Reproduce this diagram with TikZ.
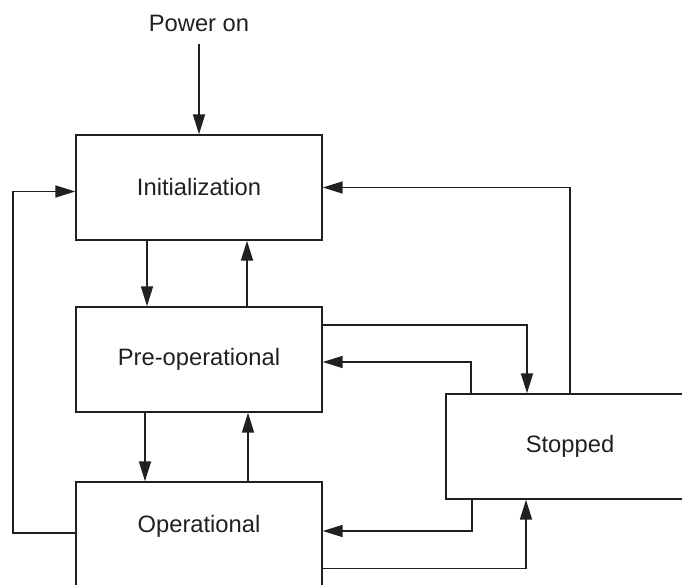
\documentclass[tikz,border=0pt]{standalone}
\usepackage{fontspec}
\setmainfont{Liberation Sans}
\usetikzlibrary{arrows.meta,calc}
\definecolor{ink}{RGB}{35,31,32}
\tikzset{
  state/.style={draw=ink, line width=1.1pt, minimum width=184.5pt, minimum height=78.75pt, inner sep=0pt, text=ink},
  label text/.style={text=ink},
  flow/.style={draw=ink, line width=1.3pt, -{Triangle[length=15pt,width=9pt]}},
}
\begin{document}
\begin{tikzpicture}[x=0.75pt,y=0.75pt,yscale=-1,xscale=1, font=\fontsize{17.8}{21}\selectfont]
\useasboundingbox (0,0) rectangle (682,585);
\clip (0,0) rectangle (682,585);

% Text Node
\node[label text] (power) at (199,23) {Power on};
%Shape: Rectangle
\node[state] (init) at (199,187.5) {Initialization};
%Shape: Rectangle
\node[state] (preop) at (199,359.5) {Pre-operational};
%Shape: Rectangle
\node[state] (oper) at (199,534.5) {};
% Text Node
\node[label text] (opertext) at (199,526.5) {Operational};
%Shape: Rectangle
\node[state, minimum width=186pt] (stopped) at (570,446.5) {Stopped};

%Straight Lines
\draw[flow] ($(power.south)+(0,8)$) -- (init.north);
\draw[flow] ($(init.south)+(-52,0)$) -- ($(preop.north)+(-52,0)$);
\draw[flow] ($(preop.north)+(48,0)$) -- ($(init.south)+(48,0)$);
\draw[flow] ($(preop.south)+(-54,0)$) -- ($(oper.north)+(-54,0)$);
\draw[flow] ($(oper.north)+(49,0)$) -- ($(preop.south)+(49,0)$);
%Elbow Lines
\draw[flow] ($(oper.west)+(0,-1.5)$) -- ++(-62,0) |- ($(init.west)+(0,4)$);
\draw[flow] (stopped.north) |- (init.east);
\draw[flow] ($(preop.east)+(0,-34.5)$) -| ($(stopped.north)+(-43,0)$);
\draw[flow] ($(stopped.north)+(-99,0)$) |- ($(preop.east)+(0,2.5)$);
\draw[flow] ($(stopped.south)+(-98,0)$) |- ($(oper.east)+(0,-3.5)$);
\draw[flow] ($(oper.east)+(0,34)$) -| ($(stopped.south)+(-44,0)$);

\end{tikzpicture}
\end{document}
